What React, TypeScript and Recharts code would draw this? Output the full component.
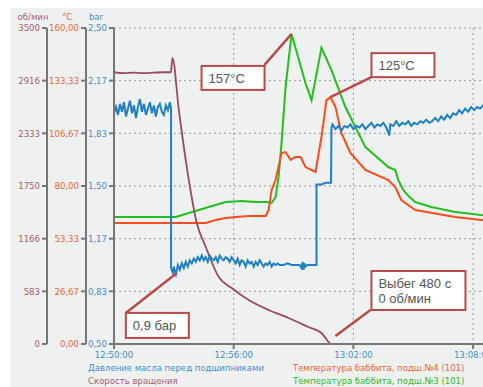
import {
  LineChart,
  Line,
  XAxis,
  YAxis,
  CartesianGrid,
  ReferenceLine,
  ReferenceDot,
} from 'recharts';

const timeTicks = [0, 6, 12, 18];
const timeLabels = ['12:50:00', '12:56:00', '13:02:00', '13:08:00'];

const rpmTicks = [0, 583.33, 1166.67, 1750, 2333.33, 2916.67, 3500];
const rpmLabels = ['0', '583', '1166', '1750', '2333', '2916', '3500'];
const tempTicks = [0, 26.67, 53.33, 80, 106.67, 133.33, 160];
const tempLabels = ['0,00', '26,67', '53,33', '80,00', '106,67', '133,33', '160,00'];
const barTicks = [0.5, 0.8333, 1.1667, 1.5, 1.8333, 2.1667, 2.5];
const barLabels = ['0,50', '0,83', '1,17', '1,50', '1,83', '2,17', '2,50'];

// [minutes since 12:50:00, value]
const speed: [number, number][] = [
  [0, 3010], [0.5, 3000], [1.0, 3005], [1.5, 3000], [2.0, 3005], [2.5, 3010],
  [2.85, 3010], [2.93, 3168], [3.25, 2592], [3.75, 1816], [4.15, 1340],
  [4.6, 1074], [5.25, 742], [5.9, 620], [6.75, 487], [7.75, 377], [8.75, 288],
  [9.75, 188], [10.4, 122], [10.9, 0], [14, 0], [17, 0], [20, 0],
];

const tempBearing3: [number, number][] = [
  [0, 64.3], [3.1, 64.3], [3.75, 66.3], [4.75, 69.4], [5.6, 71.9], [6.4, 72.4],
  [7.1, 71.9], [7.65, 71.9], [7.9, 71.4], [8.1, 74.4], [8.25, 84.6], [8.4, 102],
  [8.6, 130], [8.9, 157], [9.6, 132], [9.9, 123.5], [10.4, 150], [10.9, 138.7],
  [11.6, 120], [12.6, 99.7], [13.75, 89.6], [14.1, 88.1], [14.25, 83], [14.5, 78],
  [14.75, 75], [15.1, 71.9], [15.9, 69.4], [17.1, 66.8], [18.4, 65.3], [20, 64.5],
];

const tempBearing4: [number, number][] = [
  [0, 61.3], [3.1, 61.3], [4.6, 61.3], [5.1, 62.8], [5.6, 63.8], [6.1, 64.3],
  [6.75, 64.8], [7.6, 64.8], [7.75, 67.8], [7.9, 78], [8.1, 83], [8.4, 96.7],
  [8.6, 97.2], [8.85, 93.2], [9.1, 94.7], [9.35, 94.7], [9.6, 89.6], [10.1, 87.1],
  [10.4, 104.8], [10.65, 123.5], [10.85, 125], [11.1, 120], [11.4, 106.8],
  [11.85, 96.7], [12.6, 88.1], [13.75, 83], [14.1, 79.5], [14.4, 72.9], [15.1, 67.8],
  [17.1, 64.3], [18.4, 62.8], [20, 62.3],
];

const pressure: [number, number][] = [
  [0, 1.96], [0.1, 2.0], [0.2, 1.95], [0.3, 2.02], [0.4, 1.97], [0.5, 2.03], [0.6, 1.94],
  [0.7, 1.99], [0.8, 2.04], [0.9, 1.96], [1.0, 2.01], [1.1, 1.93], [1.2, 2.0], [1.3, 2.05],
  [1.4, 1.97], [1.5, 2.02], [1.6, 1.95], [1.7, 1.99], [1.8, 2.03], [1.9, 1.96], [2.0, 2.01],
  [2.1, 1.94], [2.2, 2.0], [2.3, 2.02], [2.4, 1.97], [2.5, 1.95], [2.6, 2.01], [2.7, 1.98],
  [2.8, 2.03], [2.86, 1.99], [2.86, 0.98],
  [2.95, 0.95], [3.0, 0.99], [3.05, 0.96], [3.1, 0.94], [3.2, 1.0], [3.3, 0.97], [3.4, 1.01],
  [3.5, 0.98], [3.6, 1.02], [3.7, 0.99], [3.8, 1.03], [3.9, 1.01], [4.0, 1.04], [4.1, 1.02],
  [4.2, 1.05], [4.3, 1.03], [4.4, 1.06], [4.5, 1.03], [4.6, 1.05], [4.7, 1.02], [4.8, 1.06],
  [4.9, 1.04], [5.0, 1.03], [5.1, 1.05], [5.2, 1.02], [5.3, 1.06], [5.4, 1.04], [5.5, 1.03],
  [5.6, 1.05], [5.7, 1.04], [5.8, 1.02], [5.9, 1.05], [6.0, 1.03], [6.1, 1.01], [6.2, 1.04],
  [6.3, 1.0], [6.4, 1.03], [6.5, 1.02], [6.6, 0.99], [6.7, 1.03], [6.8, 1.01], [6.9, 1.02],
  [7.0, 0.99], [7.1, 1.02], [7.2, 1.0], [7.3, 1.03], [7.4, 1.01], [7.5, 0.99], [7.6, 1.01],
  [7.7, 1.0], [7.8, 1.02], [7.9, 0.99], [8.0, 1.01], [8.1, 1.0], [8.2, 1.01], [8.3, 1.0],
  [8.5, 1.0], [8.7, 1.01], [8.9, 1.0], [9.1, 1.0], [9.3, 1.0], [9.4, 0.98], [9.45, 1.02],
  [9.5, 0.97], [9.55, 1.01], [9.6, 0.99], [9.7, 1.0], [9.9, 1.0], [10.15, 1.0],
  [10.15, 1.51], [10.4, 1.51], [10.6, 1.52], [10.88, 1.52], [10.9, 1.87],
  [10.95, 1.89], [11.1, 1.86], [11.25, 1.88], [11.4, 1.85], [11.55, 1.88], [11.7, 1.87],
  [11.85, 1.89], [12.0, 1.86], [12.15, 1.88], [12.3, 1.87], [12.45, 1.89], [12.6, 1.86],
  [12.75, 1.88], [12.9, 1.9], [13.05, 1.87], [13.2, 1.89], [13.35, 1.88], [13.5, 1.9],
  [13.65, 1.87], [13.8, 1.82], [13.85, 1.89], [14.0, 1.88], [14.15, 1.91], [14.3, 1.88],
  [14.45, 1.9], [14.6, 1.89], [14.75, 1.91], [14.9, 1.88], [15.05, 1.9], [15.2, 1.89],
  [15.35, 1.91], [15.5, 1.9], [15.65, 1.92], [15.8, 1.9], [15.95, 1.91], [16.1, 1.93],
  [16.25, 1.91], [16.4, 1.94], [16.55, 1.92], [16.7, 1.95], [16.85, 1.93], [17.0, 1.96],
  [17.15, 1.95], [17.3, 1.98], [17.45, 1.96], [17.6, 1.99], [17.75, 1.97], [17.9, 2.0],
  [18.05, 1.98], [18.2, 2.0], [18.35, 1.99], [18.5, 2.01], [18.7, 1.99], [18.9, 2.01],
  [19.1, 2.0], [19.3, 2.02], [19.5, 2.0], [19.7, 2.01], [20.0, 2.0],
];

const legendLeft = [
  { name: 'Давление масла перед подшипниками', color: '#3f8fd2' },
  { name: 'Скорость вращения', color: '#a4606e' },
];
const legendRight = [
  { name: 'Температура баббита, подш.№4 (101)', color: '#f4653a' },
  { name: 'Температура баббита, подш.№3 (101)', color: '#2cbb2c' },
];

const FONT = '"DejaVu Sans Condensed", "DejaVu Sans", sans-serif';
const FS = 9.5;
const C_RPM = '#a4606e';
const C_TEMP = '#f4653a';
const C_BAR = '#3f8fd2';
const AXIS = '#767676';
const CALLOUT = '#b84a4a';

// axis ids sort left-to-right from the plot outwards: a = innermost
const BAR_ID = 'a_bar';
const TEMP_ID = 'b_temp';
const RPM_ID = 'c_rpm';

const toPoints = (pairs: [number, number][]) => pairs.map(([t, v]) => ({ t, v }));

function AxisTitle({ viewBox, text, color, dx }: any) {
  const x = viewBox.x + viewBox.width + dx;
  return (
    <text x={x} y={viewBox.y - 8} textAnchor='middle' fill={color} fontSize={FS} fontFamily={FONT}>
      {text}
    </text>
  );
}

function Callout({ cx, cy, line, box, lines }: any) {
  return (
    <g>
      <line
        x1={cx + line[0]}
        y1={cy + line[1]}
        x2={cx + line[2]}
        y2={cy + line[3]}
        stroke={CALLOUT}
        strokeWidth={2.5}
      />
      <rect x={cx + box[0]} y={cy + box[1]} width={box[2]} height={box[3]} fill='#fff' stroke={CALLOUT} strokeWidth={2} />
      {lines.map((s: string, i: number) => (
        <text
          key={i}
          x={cx + box[0] + 7}
          y={cy + box[1] + 17 + i * 15}
          fill='#555'
          fontSize={13}
          fontFamily='"Liberation Sans", Arial, sans-serif'
        >
          {s}
        </text>
      ))}
    </g>
  );
}

export default function App() {
  const tick = (color: string) => ({ fill: color, fontSize: FS, fontFamily: FONT });
  return (
    <div
      style={{
        position: 'absolute',
        left: 0,
        top: 0,
        width: 483,
        height: 387,
        overflow: 'hidden',
        background: '#fff',
        fontFamily: FONT,
      }}
    >
      <div style={{ position: 'absolute', left: 10, top: 8, right: 0, bottom: 0, background: '#eff0f0' }} />
      <LineChart
        width={530}
        height={387}
        margin={{ top: 28, right: 17, bottom: 23, left: 5 }}
        style={{ position: 'absolute', left: 0, top: 0 }}
      >
        <CartesianGrid yAxisId={RPM_ID} stroke='#9a9a9a' strokeDasharray='2 3' />
        <XAxis
          dataKey='t'
          type='number'
          domain={[0, 20]}
          ticks={timeTicks}
          tickFormatter={(_, i) => timeLabels[i]}
          allowDataOverflow
          height={20}
          tick={tick(C_BAR)}
          tickSize={5}
          axisLine={{ stroke: AXIS, strokeWidth: 2 }}
          tickLine={{ stroke: AXIS, strokeWidth: 2 }}
        />
        <YAxis
          yAxisId={BAR_ID}
          orientation='left'
          width={28}
          domain={[0.5, 2.5]}
          ticks={barTicks}
          tickFormatter={(_, i) => barLabels[i]}
          tick={tick(C_BAR)}
          tickSize={5}
          tickMargin={2}
          axisLine={{ stroke: AXIS, strokeWidth: 2 }}
          tickLine={{ stroke: AXIS, strokeWidth: 2 }}
          label={<AxisTitle text='bar' color={C_BAR} dx={-18} />}
        />
        <YAxis
          yAxisId={TEMP_ID}
          orientation='left'
          width={39}
          domain={[0, 160]}
          ticks={tempTicks}
          tickFormatter={(_, i) => tempLabels[i]}
          tick={tick(C_TEMP)}
          tickSize={5}
          tickMargin={2}
          axisLine={{ stroke: AXIS, strokeWidth: 2 }}
          tickLine={{ stroke: AXIS, strokeWidth: 2 }}
          label={<AxisTitle text='°C' color={C_TEMP} dx={-19} />}
        />
        <YAxis
          yAxisId={RPM_ID}
          orientation='left'
          width={42}
          domain={[0, 3500]}
          ticks={rpmTicks}
          tickFormatter={(_, i) => rpmLabels[i]}
          tick={tick(C_RPM)}
          tickSize={5}
          tickMargin={2}
          axisLine={{ stroke: AXIS, strokeWidth: 2 }}
          tickLine={{ stroke: AXIS, strokeWidth: 2 }}
          label={<AxisTitle text='об/мин' color={C_RPM} dx={-14} />}
        />
        <ReferenceLine x={0} yAxisId={RPM_ID} stroke='#d43a3a' strokeWidth={2} />
        <Line
          data={toPoints(tempBearing3)}
          dataKey='v'
          yAxisId={TEMP_ID}
          type='linear'
          stroke='#22c01e'
          strokeWidth={2}
          dot={false}
          isAnimationActive={false}
        />
        <Line
          data={toPoints(tempBearing4)}
          dataKey='v'
          yAxisId={TEMP_ID}
          type='linear'
          stroke='#ff4c1c'
          strokeWidth={2}
          dot={false}
          isAnimationActive={false}
        />
        <Line
          data={toPoints(speed)}
          dataKey='v'
          yAxisId={RPM_ID}
          type='monotone'
          stroke='#9b4a5a'
          strokeWidth={1.8}
          dot={false}
          isAnimationActive={false}
        />
        <Line
          data={toPoints(pressure)}
          dataKey='v'
          yAxisId={BAR_ID}
          type='linear'
          stroke='#1f80c6'
          strokeWidth={2}
          dot={false}
          isAnimationActive={false}
        />
        <ReferenceDot
          x={8.9}
          y={157}
          yAxisId={TEMP_ID}
          shape={(p: any) => (
            <Callout cx={p.cx} cy={p.cy} line={[0, 0, -27, 31]} box={[-90, 32, 63, 24]} lines={['157°C']} />
          )}
        />
        <ReferenceDot
          x={10.85}
          y={125}
          yAxisId={TEMP_ID}
          shape={(p: any) => (
            <Callout cx={p.cx} cy={p.cy} line={[0, 0, 41, -20]} box={[41, -44, 63, 24]} lines={['125°C']} />
          )}
        />
        <ReferenceDot
          x={3.15}
          y={0.95}
          yAxisId={BAR_ID}
          shape={(p: any) => (
            <Callout cx={p.cx} cy={p.cy} line={[0, 0, -51, 40]} box={[-51, 40, 63, 25]} lines={['0,9 бар']} />
          )}
        />
        <ReferenceDot
          x={10.95}
          y={0}
          yAxisId={RPM_ID}
          shape={(p: any) => (
            <Callout
              cx={p.cx}
              cy={p.cy}
              line={[3, -8, 38, -34]}
              box={[39, -73, 94, 39]}
              lines={['Выбег 480 с', '0 об/мин']}
            />
          )}
        />
      </LineChart>
      {legendLeft.map((d, i) => (
        <div
          key={d.name}
          style={{ position: 'absolute', left: 88, top: 362 + i * 13, color: d.color, fontSize: FS, lineHeight: '12px', whiteSpace: 'nowrap' }}
        >
          {d.name}
        </div>
      ))}
      {legendRight.map((d, i) => (
        <div
          key={d.name}
          style={{ position: 'absolute', left: 293, top: 362 + i * 13, color: d.color, fontSize: FS, lineHeight: '12px', whiteSpace: 'nowrap' }}
        >
          {d.name}
        </div>
      ))}
    </div>
  );
}
